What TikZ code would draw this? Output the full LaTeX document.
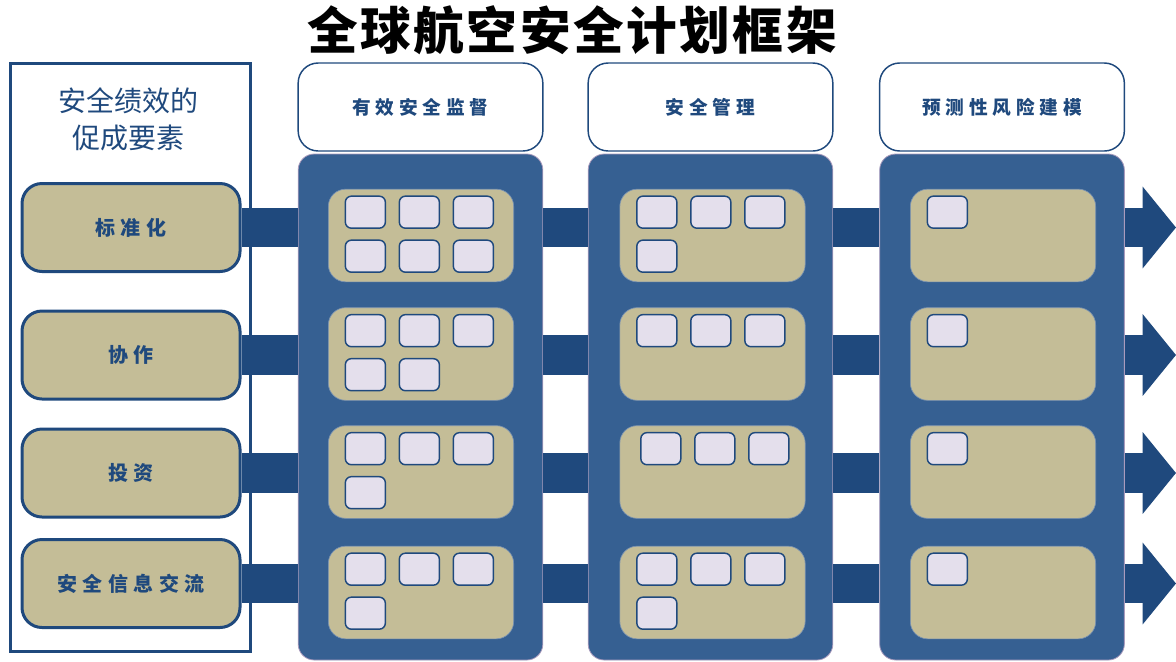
\documentclass[tikz,border=0pt]{standalone}
\usepackage{fontspec}
\setmainfont{Noto Sans CJK SC}
\usetikzlibrary{arrows.meta}
\definecolor{navy}{HTML}{1F497D}
\definecolor{steel}{HTML}{366092}
\definecolor{khaki}{HTML}{C4BD97}
\definecolor{lilac}{HTML}{E4DFEC}
\definecolor{rim}{HTML}{A99BBD}
\begin{document}
\begin{tikzpicture}[x=0.75pt,y=-0.75pt,
  title/.style={font=\bfseries\fontsize{38}{42}\selectfont\addfontfeature{LetterSpace=5}},
  panel/.style={draw=navy,line width=2.25pt,fill=white,minimum width=180pt,minimum height=441pt},
  enabler/.style={draw=navy,line width=2.25pt,fill=khaki,rounded corners=15pt,minimum width=163.5pt,minimum height=66pt,text=navy,font=\bfseries\fontsize{15}{17}\selectfont\addfontfeature{LetterSpace=28}},
  header/.style={draw=navy,line width=1.1pt,fill=white,rounded corners=15pt,minimum width=183.5pt,minimum height=66pt,text=navy,font=\bfseries\fontsize{14}{16}\selectfont\addfontfeature{LetterSpace=26}},
  body/.style={draw=rim,line width=0.6pt,fill=steel,rounded corners=12pt,minimum width=183.5pt,minimum height=379.5pt},
  cell/.style={draw=navy!60,line width=0.5pt,fill=khaki,rounded corners=13pt,minimum width=139pt,minimum height=69.5pt},
  tile/.style={draw=navy,line width=1.1pt,fill=lilac,rounded corners=4.5pt,minimum width=30pt,minimum height=24pt},
  bar/.style={draw=navy,line width=29.5pt}]
\useasboundingbox (0,0) rectangle (1176,661);
\node[title] (heading) at (572,30) {全球航空安全计划框架};
\node[panel] (side) at (130,357) {};
\node[text=navy,font=\fontsize{21}{28}\selectfont,align=center] (sidetext) at (128,119) {安全绩效的\\促成要素};
\foreach \r/\ry/\lbl in {1/227.5/标准化,2/355/协作,3/473/投资,4/583.5/安全信息交流}
  \node[enabler] (en\r) at (131,\ry) {\lbl};
\foreach \c/\cx/\hd in {1/420.5/有效安全监督,2/710.5/安全管理,3/1002/预测性风险建模}{
  \node[header] (hd\c) at (\cx,107) {\hd};
  \node[body] (col\c) at (\cx,407) {};
}
\foreach \c/\cx in {1/421,2/712.5,3/1003}
  \foreach \r/\ry in {1/235.5,2/354,3/472,4/592.5}
    \node[cell] (cell\c\r) at (\cx,\ry) {};
\foreach \c/\r/\n/\dx in {1/1/6/0,1/2/5/0,1/3/4/0,1/4/4/0,2/1/4/0,2/2/3/0,2/3/3/4,2/4/4/0,3/1/1/0,3/2/1/0,3/3/1/0,3/4/1/0}
  \foreach \k in {1,...,\n}{
    \pgfmathtruncatemacro{\kx}{mod(\k-1,3)}
    \pgfmathtruncatemacro{\ky}{(\k-1)/3}
    \node[tile] (tile\c\r\k) at ([xshift=28pt+\dx*0.75pt+\kx*40.5pt,yshift=-17.5pt-\ky*33pt]cell\c\r.north west) {};
  }
\foreach \r in {1,...,4}{
  \draw[bar] (en\r.east) -- (en\r.east -| col1.west);
  \draw[bar] (en\r.east -| col1.east) -- (en\r.east -| col2.west);
  \draw[bar] (en\r.east -| col2.east) -- (en\r.east -| col3.west);
  \draw[bar,-{Triangle[length=25pt,width=60pt]}] (en\r.east -| col3.east) -- (1176,0 |- en\r.east);
}
\end{tikzpicture}
\end{document}
